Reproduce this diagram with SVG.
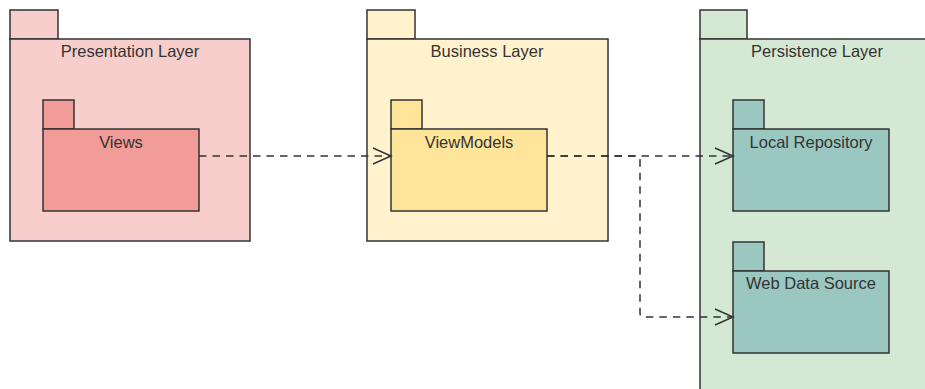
<svg xmlns="http://www.w3.org/2000/svg" width="925" height="389" viewBox="0 0 925 389">
<defs>
<style>
.pk{stroke:#333333;stroke-width:1.5}
.t{font-family:"Liberation Sans",Arial,sans-serif;font-size:16.5px;fill:#333333;text-anchor:middle}
.pres{fill:#f8cecc}.views{fill:#f19c99}
.bus{fill:#fff2cc}.vm{fill:#ffe599}
.per{fill:#d5e8d4}.rep{fill:#9ac7bf}
.edge{fill:none;stroke:#333333;stroke-width:1.5;stroke-dasharray:7.5 6}
</style>
<marker id="open" markerUnits="userSpaceOnUse" markerWidth="21" markerHeight="19" refX="19" refY="9" orient="auto">
<path d="M1,1 L19,9 L1,17" fill="none" stroke="#333333" stroke-width="1.5" stroke-dasharray="none"/>
</marker>
</defs>
<g id="presentation-layer">
<rect class="pk pres" x="10" y="10" width="48" height="29"/>
<rect class="pk pres" x="10" y="39" width="240" height="202"/>
<text class="t" x="130" y="57">Presentation Layer</text>
</g>
<g id="views">
<rect class="pk views" x="43" y="100" width="31" height="29"/>
<rect class="pk views" x="43" y="129" width="156" height="82"/>
<text class="t" x="121" y="148">Views</text>
</g>
<g id="business-layer">
<rect class="pk bus" x="367" y="10" width="48" height="29"/>
<rect class="pk bus" x="367" y="39" width="241" height="202"/>
<text class="t" x="487" y="57">Business Layer</text>
</g>
<g id="viewmodels">
<rect class="pk vm" x="391" y="100" width="31" height="29"/>
<rect class="pk vm" x="391" y="129" width="156" height="82"/>
<text class="t" x="469" y="148">ViewModels</text>
</g>
<g id="persistence-layer">
<rect class="pk per" x="700" y="10" width="47" height="29"/>
<rect class="pk per" x="700" y="39" width="234" height="370"/>
<text class="t" x="817" y="57">Persistence Layer</text>
</g>
<g id="local-repository">
<rect class="pk rep" x="733" y="100" width="31" height="29"/>
<rect class="pk rep" x="733" y="129" width="156" height="82"/>
<text class="t" x="811" y="148">Local Repository</text>
</g>
<g id="web-data-source">
<rect class="pk rep" x="733" y="242" width="31" height="29"/>
<rect class="pk rep" x="733" y="271" width="156" height="82"/>
<text class="t" x="811" y="289">Web Data Source</text>
</g>
<g id="connectors">
<path class="edge" d="M199,156 H391" marker-end="url(#open)"/>
<path class="edge" d="M547,156 H733" marker-end="url(#open)"/>
<path class="edge" d="M547,156 H636 Q640,156 640,160 V313 Q640,317 644,317 H733" marker-end="url(#open)"/>
</g>
</svg>
